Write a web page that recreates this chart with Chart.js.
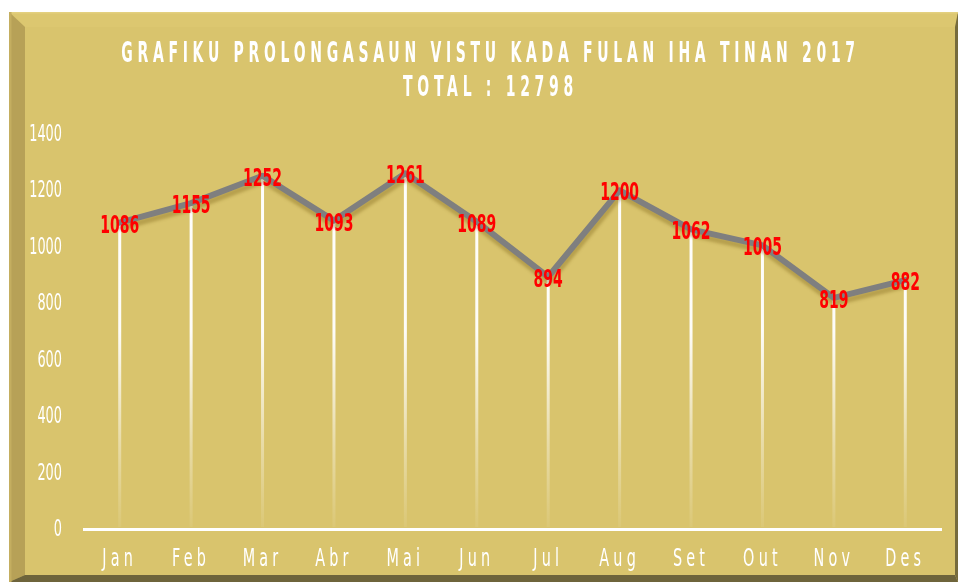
<!DOCTYPE html>
<html><head><meta charset="utf-8">
<script src="https://cdn.jsdelivr.net/npm/chart.js@4.4.1/dist/chart.umd.min.js"></script>
<style>html,body{margin:0;padding:0;background:#fff;overflow:hidden}#wrap{width:958px;height:582px;position:relative}</style>
</head><body><div id="wrap"><canvas id="c" width="958" height="582"></canvas></div>
<script>
const categories = ['Jan','Feb','Mar','Abr','Mai','Jun','Jul','Aug','Set','Out','Nov','Des'];
const values = [1086,1155,1252,1093,1261,1089,894,1200,1062,1005,819,882];
const yTicks = [0,200,400,600,800,1000,1200,1400];
const titleLines = ['GRAFIKU PROLONGASAUN VISTU KADA FULAN IHA TINAN 2017','TOTAL : 12798'];

const FAMILY = '"DejaVu Sans", "Liberation Sans", sans-serif';

function poly(ctx, pts, color){
  ctx.beginPath(); ctx.moveTo(pts[0][0],pts[0][1]);
  for(let i=1;i<pts.length;i++) ctx.lineTo(pts[i][0],pts[i][1]);
  ctx.closePath(); ctx.fillStyle=color; ctx.fill();
}

// draw text condensed: every fillText during fn is squeezed horizontally around its anchor
function condensed(ctx, opts, fn){
  const proto = CanvasRenderingContext2D.prototype.fillText;
  ctx.save();
  if(opts.ls) ctx.letterSpacing = opts.ls;
  ctx.fillText = function(text, x, y){
    ctx.save();
    ctx.translate(x + (opts.dx||0), y + (opts.dy||0));
    ctx.scale(opts.sx, opts.sy||1);
    proto.call(ctx, text, 0, 0);
    ctx.restore();
  };
  try { fn(); } finally { delete ctx.fillText; ctx.restore(); }
}

const framePlugin = {
  id:'frame',
  beforeDraw(chart){
    const ctx = chart.ctx;
    if(!chart.$patched){
      const t = chart.titleBlock;
      if(t){ const od = t.draw.bind(t);
        t.draw = function(a){ condensed(ctx,{sx:0.5,ls:'9.4px',dx:20,dy:2.5},()=>od(a)); }; }
      const xs = chart.scales.x; const odx = xs.drawLabels.bind(xs);
      xs.drawLabels = function(a){ condensed(ctx,{sx:0.6,ls:'7px'},()=>odx(a)); };
      const ysc = chart.scales.y; const ody = ysc.drawLabels.bind(ysc);
      ysc.drawLabels = function(a){ condensed(ctx,{sx:0.56,dy:1},()=>ody(a)); };
      chart.$patched = true;
    }
    const L=9,T=12,R=958,B=582,l=25,t=27,r=955,b=575;
    ctx.save();
    ctx.fillStyle='#ffffff'; ctx.fillRect(0,0,958,582);
    ctx.fillStyle='#d9c46d'; ctx.fillRect(L,T,R-L,B-T);
    poly(ctx,[[L,T],[R,T],[r,t],[l,t]],'#dcc770');
    poly(ctx,[[L,T],[l,t],[l,b],[L,B]],'#b7a157');
    poly(ctx,[[R,T],[R,B],[r,b],[r,t]],'#766b3d');
    poly(ctx,[[L,B],[R,B],[r,b],[l,b]],'#6e643b');
    ctx.fillStyle='#e3d07f'; ctx.fillRect(L,T,R-L,1.5);
    ctx.fillStyle='#c4ae60'; ctx.fillRect(L,T,2.5,B-T);
    ctx.restore();
  },
  beforeDatasetsDraw(chart){
    const ctx=chart.ctx; const meta=chart.getDatasetMeta(0);
    const y0=chart.scales.y.getPixelForValue(0);
    ctx.save();
    const g=ctx.createLinearGradient(0,chart.chartArea.top,0,y0);
    g.addColorStop(0,'rgba(255,255,255,1)');
    g.addColorStop(0.5,'rgba(255,255,255,0.95)');
    g.addColorStop(0.78,'rgba(255,255,255,0.4)');
    g.addColorStop(1,'rgba(255,255,255,0.05)');
    ctx.strokeStyle=g; ctx.lineWidth=3;
    meta.data.forEach(p=>{
      ctx.beginPath(); ctx.moveTo(p.x,p.y); ctx.lineTo(p.x,y0-2); ctx.stroke();
    });
    ctx.restore();
  },
  beforeDatasetDraw(chart){
    const ctx=chart.ctx; ctx.save();
    ctx.shadowColor='rgba(120,95,20,0.35)';
    ctx.shadowOffsetX=1; ctx.shadowOffsetY=5; ctx.shadowBlur=3;
  },
  afterDatasetDraw(chart){ chart.ctx.restore(); },
  afterDatasetsDraw(chart){
    const ctx=chart.ctx; const meta=chart.getDatasetMeta(0);
    ctx.save();
    ctx.fillStyle='#ff0000';
    ctx.font='bold 25px '+FAMILY;
    ctx.textAlign='center'; ctx.textBaseline='middle';
    condensed(ctx,{sx:0.56},()=>{
      meta.data.forEach((p,i)=>{ ctx.fillText(String(values[i]), p.x, p.y+3.5); });
    });
    ctx.restore();
  }
};

new Chart(document.getElementById('c'),{
  type:'line',
  data:{labels:categories,datasets:[{data:values,borderColor:'#7f7f7f',borderWidth:6,pointRadius:0,tension:0,borderJoinStyle:'round',borderCapStyle:'round',fill:false}]},
  options:{
    responsive:false, animation:false, devicePixelRatio:1,
    layout:{padding:{left:0,right:17,top:0,bottom:0}},
    plugins:{
      legend:{display:false}, tooltip:{enabled:false},
      title:{display:true,text:titleLines,color:'#ffffff',
        font:{family:FAMILY,size:28,weight:'bold',lineHeight:'34px'},
        padding:{top:35,bottom:31}}
    },
    scales:{
      x:{offset:true,grid:{display:false,drawTicks:false},
        border:{display:true,color:'#ffffff',width:3},
        ticks:{color:'#ffffff',padding:16,maxRotation:0,autoSkip:false,font:{family:FAMILY,size:24}},
        afterFit(s){ s.height=53; }},
      y:{min:0,max:1400,grid:{display:false,drawTicks:false},border:{display:false},
        afterBuildTicks(s){ s.ticks=yTicks.map(v=>({value:v})); },
        ticks:{color:'#ffffff',padding:22,font:{family:FAMILY,size:23},callback:(v)=>String(v)},
        afterFit(s){ s.width=84; }}
    }
  },
  plugins:[framePlugin]
});
</script></body></html>
